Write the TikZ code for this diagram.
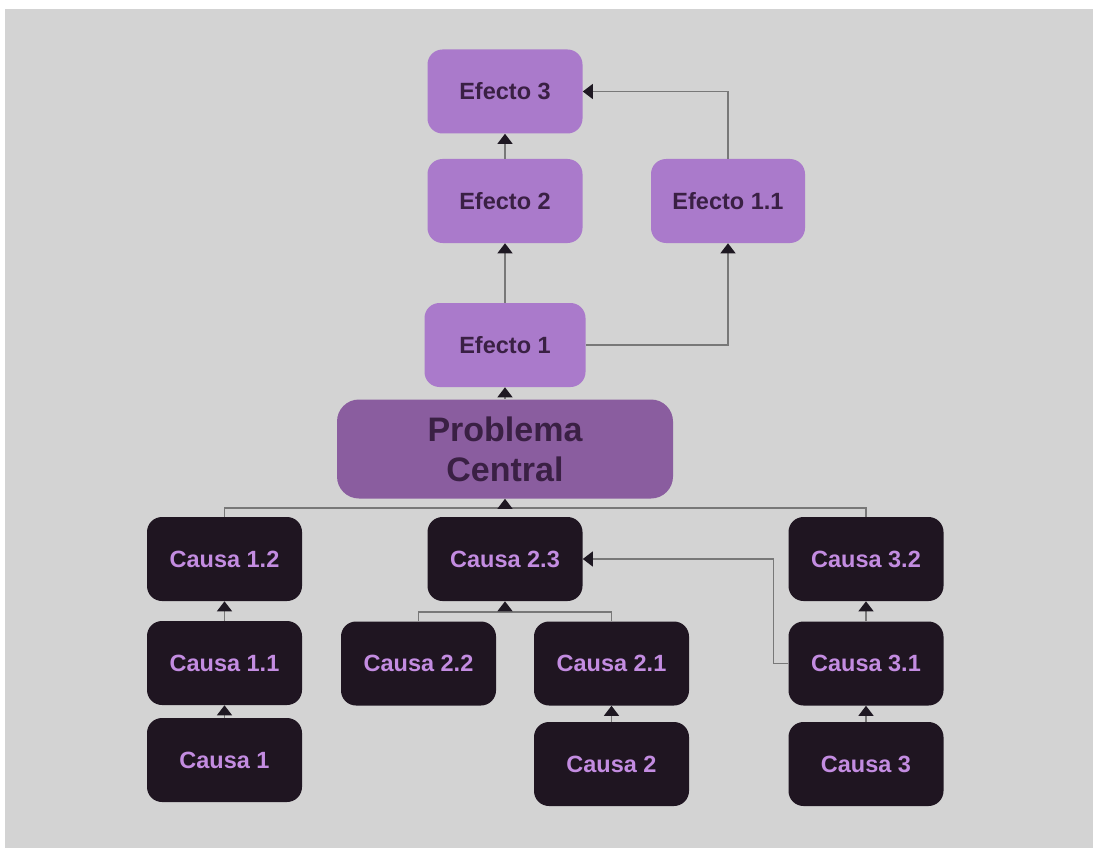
\documentclass[tikz,border=0pt]{standalone}
\usepackage{fontspec}
\setmainfont{Liberation Sans}
\usetikzlibrary{arrows.meta}
\definecolor{bg_grey}{RGB}{211,211,211}
\definecolor{node_lilac}{RGB}{170,122,203}
\definecolor{node_plum}{RGB}{138,93,159}
\definecolor{node_dark}{RGB}{31,21,33}
\definecolor{text_dark}{RGB}{58,32,68}
\definecolor{text_lilac}{RGB}{195,140,225}
\definecolor{edge_grey}{RGB}{120,120,120}
\definecolor{tip_dark}{RGB}{30,24,34}

\begin{document}
\begin{tikzpicture}[x=1pt,y=-1pt,semithick,
    >={Triangle[length=10pt,width=15pt,color=tip_dark]}]
    \tikzstyle{box}=[rectangle, rounded corners=15pt, minimum width=155pt, minimum height=84pt, inner sep=0pt, font=\bfseries\fontsize{23.5}{28}\selectfont]
    \tikzstyle{effect}=[style=box, fill=node_lilac, text=text_dark]
    \tikzstyle{cause}=[style=box, fill=node_dark, text=text_lilac]
    \tikzstyle{problem}=[style=box, fill=node_plum, text=text_dark, minimum width=336pt, minimum height=99pt, rounded corners=22pt, align=center, font=\bfseries\fontsize{34}{40}\selectfont]
    \tikzstyle{link}=[draw=edge_grey, line width=1.3pt]

    % frame
    \useasboundingbox (0,0) rectangle (1093,848);
    \fill[white] (0,0) rectangle (1093,848);
    \fill[bg_grey] (5,9) rectangle (1093,848);

    % effects
    \node[effect]                       (E3)  at (505,91.5)  {Efecto 3};
    \node[effect]                       (E2)  at (505,201)   {Efecto 2};
    \node[effect, minimum width=154pt]  (E11) at (728,201)   {Efecto 1.1};
    \node[effect, minimum width=161pt]  (E1)  at (505,345)   {Efecto 1};

    % problem
    \node[problem]                      (PC)  at (505,449)   {Problema\\Central};

    % causes
    \node[cause]  (C12) at (224.5,559)   {Causa 1.2};
    \node[cause]  (C11) at (224.5,663)   {Causa 1.1};
    \node[cause]  (C1)  at (224.5,760)   {Causa 1};
    \node[cause]  (C23) at (505,559)     {Causa 2.3};
    \node[cause]  (C22) at (418.5,663.5) {Causa 2.2};
    \node[cause]  (C21) at (611.5,663.5) {Causa 2.1};
    \node[cause]  (C2)  at (611.5,764)   {Causa 2};
    \node[cause]  (C32) at (866,559)     {Causa 3.2};
    \node[cause]  (C31) at (866,663.5)   {Causa 3.1};
    \node[cause]  (C3)  at (866,764)     {Causa 3};

    \coordinate (bus1) at (505,508);
    \coordinate (bus2) at (505,612);

    \path[link,->]
     (E2)   edge (E3)
     (E1)   edge (E2)
     (PC)   edge (E1)
     (C11)  edge (C12)
     (C1)   edge (C11)
     (C2)   edge (C21)
     (C31)  edge (C32)
     (C3)   edge (C31);

    \draw[link] (C12.north) |- (bus1) -| (C32.north);
    \draw[link] (C22.north) |- (bus2) -| (C21.north);
    \draw[link,->] (bus1) -- (PC.south);
    \draw[link,->] (bus2) -- (C23.south);
    \draw[link,->] (E1.east) -| (E11.south);
    \draw[link,->] (E11.north) |- (E3.east);
    \draw[link,->] (C31.west) -- ++(-15,0) |- (C23.east);
\end{tikzpicture}
\end{document}
